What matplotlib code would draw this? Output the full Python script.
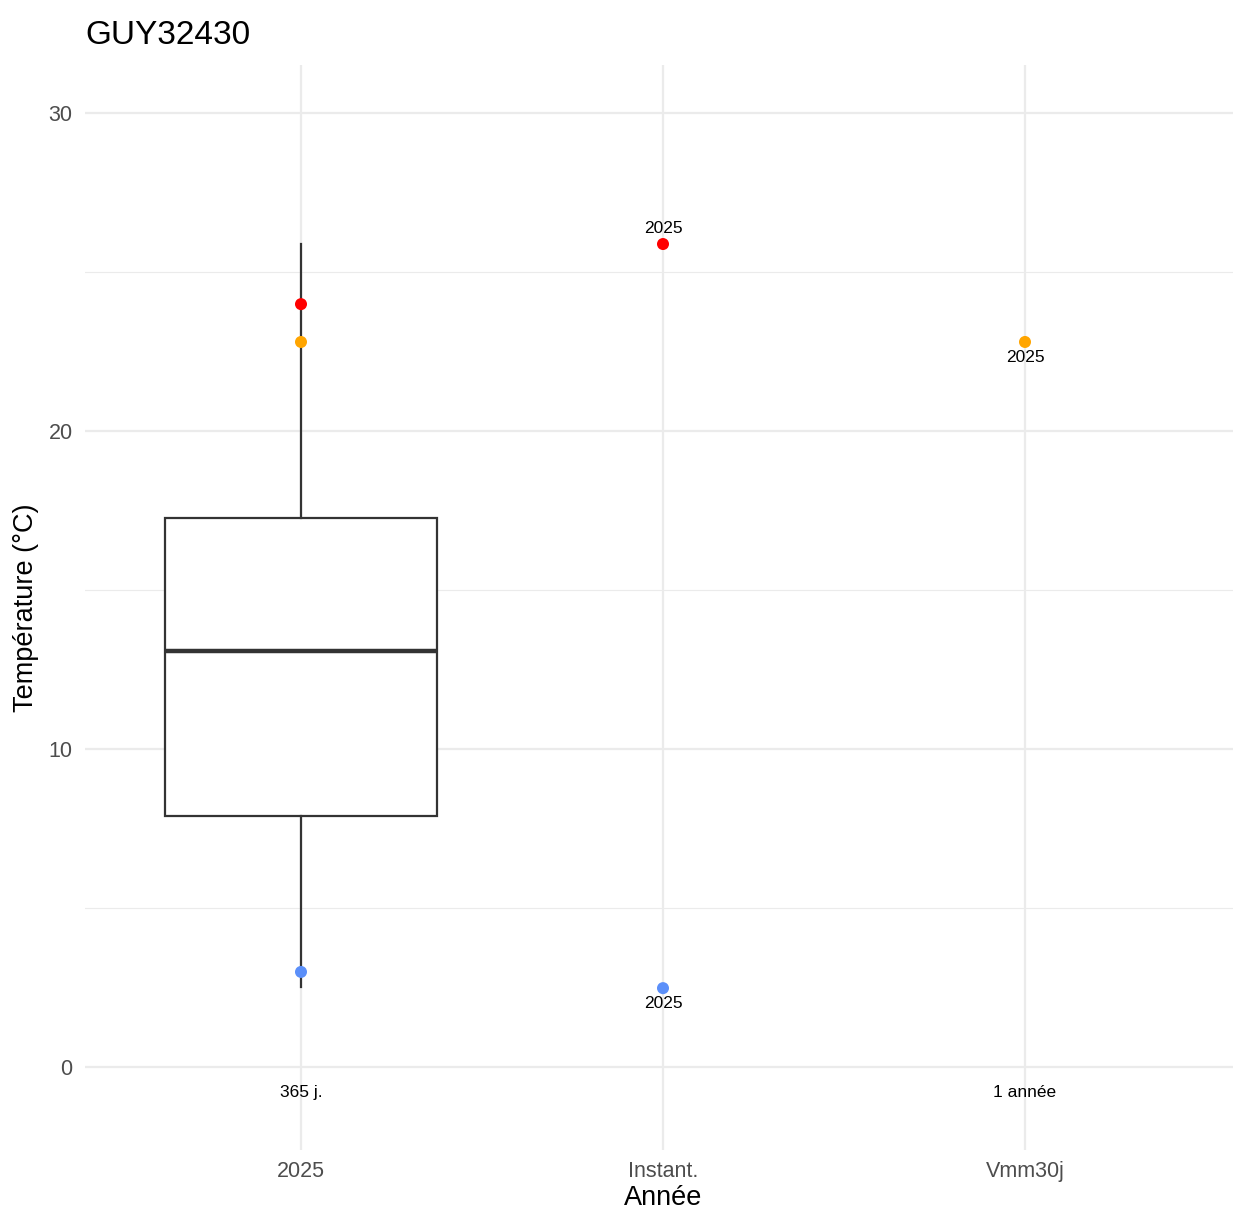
import matplotlib
matplotlib.use("Agg")
import matplotlib.pyplot as plt

plt.rcParams['font.family'] = ['Liberation Sans', 'DejaVu Sans']

# data
categories = ["2025", "Instant.", "Vmm30j"]
box_stats = {"q1": 7.9, "med": 13.08, "q3": 17.26, "whislo": 2.52, "whishi": 25.88}
pts_cat = [1, 1, 1, 2, 2, 3]
pts_val = [23.99, 22.8, 2.99, 25.88, 2.48, 22.8]
pts_col = ["#ff0000", "#ffa500", "#5b8ff9", "#ff0000", "#5b8ff9", "#ffa500"]
lab_cat = [2, 2, 3]
lab_val = [25.88, 2.48, 22.8]
lab_txt = ["2025", "2025", "2025"]
lab_dir = [1, -1, -1]   # above / below
period_cat = [1, 3]
period_txt = ["365 j.", "1 année"]
period_val = -0.8

fig = plt.figure(figsize=(12.33, 12.11), dpi=100)
ax = fig.add_axes([85 / 1233, 61 / 1211, 1148 / 1233, 1085 / 1211])

stats = dict(box_stats)
stats["fliers"] = []
ax.bxp([stats], positions=[1], widths=0.75, showfliers=False, showcaps=False,
       patch_artist=True,
       boxprops=dict(facecolor="white", edgecolor="#333333", lw=1.6),
       whiskerprops=dict(color="#333333", lw=1.6),
       medianprops=dict(color="#333333", lw=3.2))

ax.scatter(pts_cat, pts_val, c=pts_col, s=75, zorder=5, linewidths=0)

for c, v, t, d in zip(lab_cat, lab_val, lab_txt, lab_dir):
    ax.annotate(t, (c, v), xytext=(0, 11 * d), textcoords="offset points",
                ha="center", va="center", fontsize=12.5, color="black")
for c, t in zip(period_cat, period_txt):
    ax.text(c, period_val, t, ha="center", va="center", fontsize=12.5, color="black")

ax.set_xlim(1 - 216 / 362, 3 + 208 / 362)
ax.set_ylim(-2.61, 31.51)

# grid
ax.set_yticks([0, 10, 20, 30])
ax.set_yticks([5, 15, 25], minor=True)
ax.set_xticks([1, 2, 3])
ax.set_xticklabels(categories)
ax.grid(which="major", color="#ebebeb", lw=1.6)
ax.grid(which="minor", axis="y", color="#ebebeb", lw=0.8)
ax.set_axisbelow(True)
for s in ax.spines.values():
    s.set_visible(False)
ax.tick_params(which="both", length=0, labelsize=15.5, labelcolor="#4d4d4d")
ax.tick_params(axis="y", pad=9)
ax.tick_params(axis="x", pad=8)

ax.set_xlabel("Année", fontsize=19.5, labelpad=2)
ax.xaxis.label.set_x((663 - 85) / 1148)
ax.set_ylabel("Température (°C)", fontsize=19.5, labelpad=7)
ax.set_title("GUY32430", loc="left", fontsize=24, pad=15, x=0)

fig.savefig("out.png", dpi=100)
